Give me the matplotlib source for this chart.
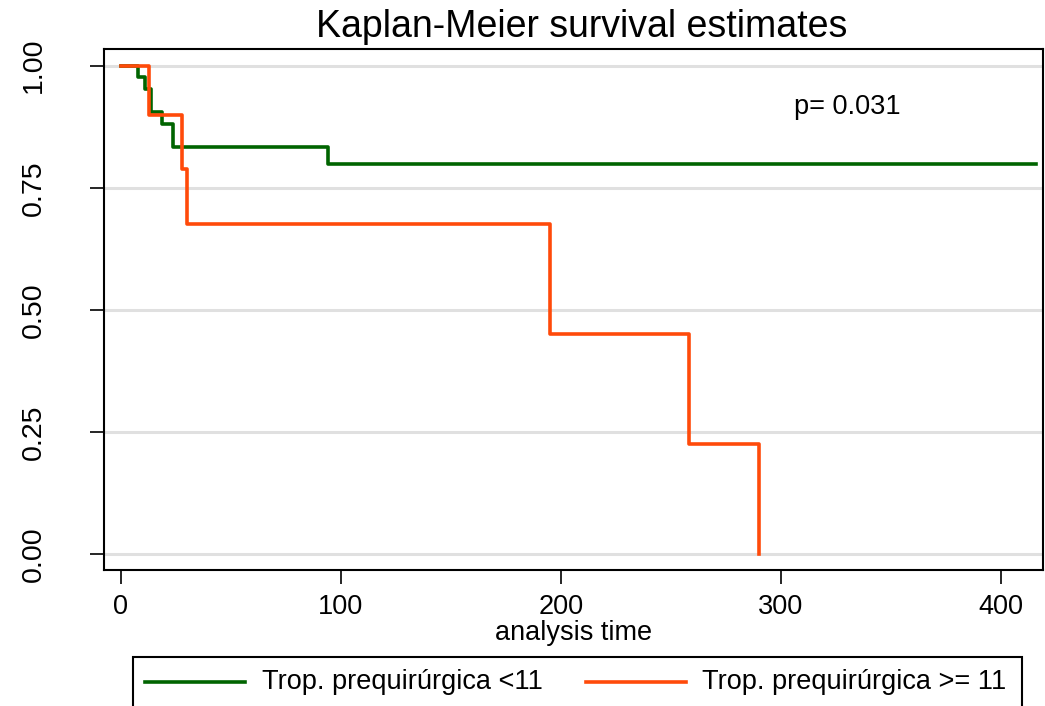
import matplotlib
matplotlib.use("Agg")
import matplotlib.pyplot as plt
from matplotlib.lines import Line2D
from matplotlib.patches import Rectangle

# Kaplan-Meier step data
green_time = [0, 8, 11, 14, 19, 24, 94, 416]
green_surv = [1.0, 0.976, 0.952, 0.905, 0.881, 0.833, 0.799, 0.799]
orange_time = [0, 13, 28, 30, 195, 258, 290]
orange_surv = [1.0, 0.9, 0.7875, 0.675, 0.45, 0.225, 0.0]

labels = ["Trop. prequirúrgica <11", "Trop. prequirúrgica >= 11"]
colors = ['#006400', '#ff4a0a']
xticks = [0, 100, 200, 300, 400]
yticks = [0.0, 0.25, 0.5, 0.75, 1.0]

plt.rcParams['font.family'] = ['Liberation Sans', 'DejaVu Sans']

W, H = 1045, 706
fig = plt.figure(figsize=(W / 100, H / 100), dpi=100)
ax = fig.add_axes([0.0992, 0.1922, 0.8988, 0.738])

for y in yticks:
    ax.axhline(y, color='#e0e0e0', lw=2.2, zorder=0)

ax.step(green_time, green_surv, where='post', color=colors[0], lw=2.6)
ax.step(orange_time, orange_surv, where='post', color=colors[1], lw=2.6)

ax.set_xlim(-7.7, 419)
ax.set_ylim(-0.0334, 1.0336)
ax.set_xticks(xticks)
ax.set_yticks(yticks)
ax.set_xticklabels([str(x) for x in xticks], fontsize=19.5)
ax.set_yticklabels(["%.2f" % y for y in yticks], fontsize=20.5, rotation=90, va='center')
ax.tick_params(length=10, width=1.2)
ax.tick_params(axis='x', pad=7)
ax.tick_params(axis='y', pad=31)
for s in ax.spines.values():
    s.set_linewidth(1.5)

ax.set_xlabel("analysis time", fontsize=19.5, labelpad=0)
ax.text(306, 0.915, "p= 0.031", fontsize=19.5, va='center')
fig.text(0.557, 0.962, "Kaplan-Meier survival estimates", fontsize=27,
         ha='center', va='center')

# legend box at the bottom, drawn in pixel positions of the figure
fig.patches.append(Rectangle((133 / W, -0.01), (1022 - 133) / W, 0.01 + 1 - 657 / H,
                             transform=fig.transFigure, fill=False,
                             edgecolor='black', lw=1.5))
ly = 1 - 682 / H
for (x0, x1, tx), lab, c in zip([(145, 245, 262), (586, 686, 702)], labels, colors):
    fig.lines.append(Line2D([x0 / W, x1 / W], [ly, ly], transform=fig.transFigure,
                            color=c, lw=2.6))
    fig.text(tx / W, ly, lab, fontsize=19.5, va='center')

fig.savefig("out.png", dpi=100)
